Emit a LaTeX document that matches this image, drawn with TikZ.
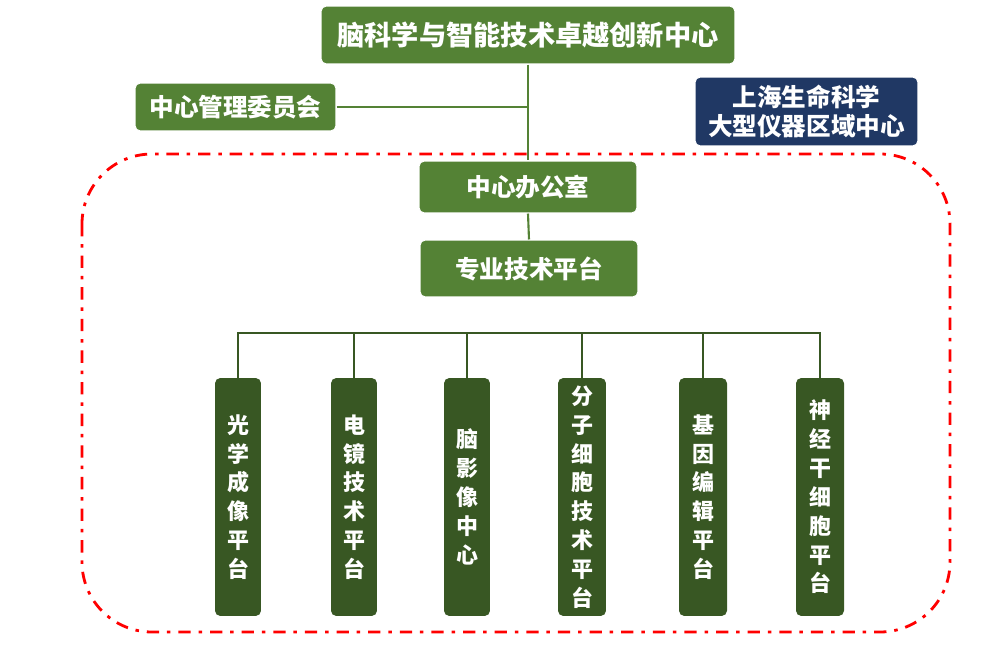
\documentclass[tikz,border=0pt]{standalone}
\usepackage{fontspec}
\setmainfont{Noto Sans CJK SC}
\definecolor{boxgreen}{RGB}{84,130,53}
\definecolor{darkgreen}{RGB}{56,87,35}
\definecolor{navy}{RGB}{32,56,100}
\begin{document}
\begin{tikzpicture}[x=0.02cm,y=-0.02cm,
 box/.style={fill=boxgreen,draw=white,line width=0.6pt,rounded corners=3pt,text=white,font=\bfseries\fontsize{14}{16}\selectfont,inner sep=0pt},
 navybox/.style={box,fill=navy,align=center,font=\bfseries\fontsize{14}{16.5}\selectfont},
 platbox/.style={fill=darkgreen,rounded corners=3pt,text=white,inner sep=0pt,minimum width=0.92cm,minimum height=4.76cm,align=center,font=\bfseries\fontsize{12.5}{16.4}\selectfont},
 link/.style={boxgreen,line width=1.2pt},
 buslink/.style={darkgreen,line width=1.7pt}]
 \useasboundingbox (0,0) rectangle (995,663);
 \draw[red,line width=1.6pt,rounded corners=1.4cm,dash pattern=on 7pt off 4.5pt on 2pt off 4.5pt](82,154) rectangle (950,632);
 \node[box,minimum width=8.28cm,minimum height=1.16cm,font=\bfseries\fontsize{15.5}{18}\selectfont] (title) at (528,35) {脑科学与智能技术卓越创新中心};
 \node[box,minimum width=4.02cm,minimum height=0.96cm] (committee) at (235.5,107) {中心管理委员会};
 \node[navybox,minimum width=4.46cm,minimum height=1.38cm] (instr) at (806.5,111.5) {上海生命科学\\大型仪器区域中心};
 \node[box,minimum width=4.36cm,minimum height=1.04cm] (office) at (528,187) {中心办公室};
 \node[box,minimum width=4.36cm,minimum height=1.14cm] (platform) at (529,268.5) {专业技术平台};
 \draw[link](title.south) -- (office.north);
 \draw[link](committee.east) -- (committee.east -| title.south);
 \draw[link](office.south) -- (platform.north);
 \node[platbox] (p1) at (238,497) {光\\学\\成\\像\\平\\台};
 \node[platbox] (p2) at (354,497) {电\\镜\\技\\术\\平\\台};
 \node[platbox] (p3) at (467,497) {脑\\影\\像\\中\\心};
 \node[platbox,minimum width=0.96cm] (p4) at (582,497) {分\\子\\细\\胞\\技\\术\\平\\台};
 \node[platbox,minimum width=0.96cm] (p5) at (703,497) {基\\因\\编\\辑\\平\\台};
 \node[platbox,minimum width=0.96cm] (p6) at (820,497) {神\\经\\干\\细\\胞\\平\\台};
 \coordinate (bus) at (529,333);
 \draw[buslink](p1.north) -- (p1.north |- bus) -- (p6.north |- bus) -- (p6.north);
 \draw[buslink](p2.north) -- (p2.north |- bus);
 \draw[buslink](p3.north) -- (p3.north |- bus);
 \draw[buslink](p4.north) -- (p4.north |- bus);
 \draw[buslink](p5.north) -- (p5.north |- bus);
\end{tikzpicture}
\end{document}
